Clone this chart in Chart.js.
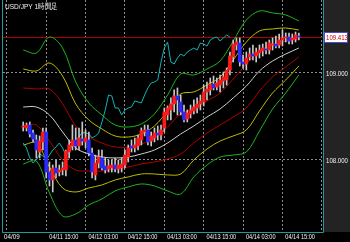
<!DOCTYPE html>
<html><head><meta charset="utf-8">
<script src="https://cdn.jsdelivr.net/npm/chart.js@4/dist/chart.umd.min.js"></script>
<style>html,body{margin:0;padding:0;background:#000;overflow:hidden}canvas{display:block}</style>
</head><body>
<canvas id="c" width="350" height="242"></canvas>
<script>
const chartTitle = 'USD/JPY 1時間足';
const tickIndex = [1, 13, 25, 37, 49, 61, 73, 85];
const tickLabels = ['04/09', '04/11 15:00', '04/12 03:00', '04/12 15:00', '04/13 03:00', '04/13 15:00', '04/14 03:00', '04/14 15:00'];
const priceTicks = [108, 109];
const lastPrice = 109.413;

const opens = [108.379,108.368,108.402,108.310,108.230,108.092,108.207,108.322,107.862,107.770,
107.908,107.862,107.885,107.885,108.092,108.161,108.230,108.161,108.241,108.207,
108.230,108.080,107.828,107.965,108.023,107.931,107.896,107.908,107.942,107.896,
107.908,107.942,108.034,108.161,108.138,108.161,108.230,108.322,108.345,108.218,
108.253,108.310,108.287,108.368,108.517,108.575,108.644,108.736,108.667,108.552,
108.471,108.529,108.563,108.598,108.644,108.667,108.782,108.805,108.873,108.839,
108.862,108.908,108.919,109.034,109.184,109.322,109.345,109.126,109.103,109.184,
109.218,109.195,109.230,109.253,109.276,109.264,109.322,109.333,109.322,109.379,
109.402,109.414,109.379,109.391,109.425];
const highs = [108.437,108.425,108.437,108.345,108.287,108.276,108.368,108.368,107.977,107.942,
108.000,107.942,107.977,108.115,108.230,108.402,108.368,108.368,108.437,108.345,
108.322,108.138,108.057,108.115,108.115,108.023,108.000,108.000,108.023,108.000,
108.023,108.115,108.172,108.230,108.253,108.287,108.368,108.402,108.402,108.322,
108.368,108.391,108.402,108.598,108.621,108.713,108.805,108.828,108.747,108.632,
108.575,108.632,108.690,108.713,108.747,108.862,108.896,108.942,108.965,108.942,
108.977,109.011,109.057,109.241,109.379,109.402,109.402,109.207,109.241,109.287,
109.322,109.287,109.322,109.333,109.356,109.379,109.402,109.425,109.448,109.494,
109.460,109.460,109.448,109.471,109.460];
const lows = [108.333,108.333,108.264,108.207,108.023,108.023,108.115,107.793,107.701,107.632,
107.793,107.816,107.828,107.816,108.023,108.115,108.115,108.115,108.172,108.138,
108.046,107.793,107.770,107.908,107.885,107.850,107.862,107.862,107.862,107.850,
107.862,107.908,107.977,108.092,108.092,108.115,108.172,108.276,108.172,108.161,
108.207,108.230,108.230,108.322,108.460,108.460,108.552,108.517,108.517,108.437,
108.437,108.483,108.529,108.540,108.575,108.621,108.690,108.747,108.805,108.805,
108.782,108.828,108.862,108.977,109.126,109.264,109.080,109.057,109.034,109.149,
109.149,109.126,109.172,109.195,109.218,109.218,109.264,109.287,109.287,109.310,
109.356,109.333,109.333,109.356,109.379];
const closes = [108.391,108.402,108.299,108.241,108.115,108.218,108.322,107.862,107.770,107.908,
107.850,107.885,107.908,108.103,108.172,108.230,108.161,108.253,108.218,108.253,
108.080,107.862,107.965,108.034,107.908,107.885,107.931,107.942,107.896,107.942,
107.954,108.057,108.138,108.138,108.172,108.253,108.333,108.345,108.207,108.276,
108.310,108.287,108.345,108.552,108.598,108.644,108.736,108.690,108.552,108.460,
108.540,108.575,108.609,108.644,108.678,108.782,108.816,108.873,108.828,108.885,
108.919,108.954,109.034,109.195,109.333,109.356,109.126,109.103,109.172,109.218,
109.195,109.241,109.264,109.287,109.264,109.345,109.333,109.310,109.379,109.402,
109.414,109.368,109.402,109.437,109.413];

const bandIdx = [0,4,8,12,16,20,24,28,32,36,40,44,48,52,56,60,64,68,72,76,80,84];
const upper3 = [109.264,109.230,109.414,109.287,108.896,108.655,108.517,108.402,108.379,108.414,108.529,108.747,108.988,108.977,109.046,109.138,109.368,109.609,109.713,109.690,109.667,109.598];
const upper2 = [109.046,109.023,109.115,108.965,108.644,108.460,108.356,108.276,108.264,108.299,108.391,108.563,108.759,108.782,108.862,108.954,109.149,109.356,109.483,109.506,109.517,109.494];
const upper1 = [108.828,108.816,108.816,108.644,108.391,108.264,108.195,108.149,108.149,108.184,108.253,108.379,108.529,108.586,108.678,108.770,108.931,109.103,109.253,109.322,109.368,109.391];
const middle = [108.609,108.609,108.517,108.322,108.138,108.069,108.034,108.023,108.034,108.069,108.115,108.195,108.299,108.391,108.494,108.586,108.713,108.850,109.023,109.138,109.218,109.287];
const lower1 = [108.391,108.402,108.218,108.000,107.885,107.873,107.873,107.896,107.919,107.954,107.977,108.011,108.069,108.195,108.310,108.402,108.494,108.598,108.793,108.954,109.069,109.184];
const lower2 = [108.172,108.195,107.919,107.678,107.632,107.678,107.713,107.770,107.805,107.839,107.839,107.828,107.839,108.000,108.126,108.218,108.276,108.345,108.563,108.770,108.919,109.080];
const lower3 = [107.954,107.988,107.621,107.356,107.379,107.483,107.552,107.644,107.690,107.724,107.701,107.644,107.609,107.805,107.942,108.034,108.057,108.092,108.333,108.586,108.770,108.977];

const lagging = [108.195,108.138,108.023,107.965,108.000,108.069,108.046,108.000,108.057,108.115,
108.149,108.195,108.138,108.057,108.103,108.172,108.230,108.264,108.322,108.310,
108.299,108.253,108.276,108.310,108.437,108.575,108.747,108.736,108.598,108.598,
108.517,108.575,108.598,108.609,108.678,108.667,108.655,108.747,108.828,108.885,
108.896,108.919,109.126,109.287,109.356,109.126,109.103,109.172,109.218,109.195,
109.241,109.264,109.287,109.264,109.345,109.333,109.310,109.379,109.402,109.414,
109.368,109.402,109.437,109.413];

const FONT = "'Liberation Sans',Arial,sans-serif";
const UP = '#ff1a1a', DOWN = '#2a2aff';

const bandPts = vals => vals.map((v, i) => ({x: bandIdx[i], y: v}));
const bodies = opens.map((o, i) => ({x: i, y: [o, closes[i]]}));
const wicks = lows.map((l, i) => ({x: i, y: [l, highs[i]]}));
const lagPts = lagging.map((v, i) => ({x: i, y: v}));
const candleColor = ctx => closes[ctx.dataIndex] >= opens[ctx.dataIndex] ? UP : DOWN;

const bandLine = (data, color, order) => ({type: 'line', data: bandPts(data), borderColor: color, borderWidth: 1, pointRadius: 0, tension: 0.35, order});

function narrowText(ctx, text, x, y, sx, align) {
  ctx.save();
  ctx.translate(x, y);
  ctx.scale(sx, 1);
  ctx.textAlign = align;
  ctx.fillText(text, 0, 0);
  ctx.restore();
}

const deco = {
  id: 'deco',
  beforeDraw(chart) {
    const {ctx, chartArea: a, width, height} = chart;
    ctx.save();
    ctx.fillStyle = '#000';
    ctx.fillRect(0, 0, width, height);
    ctx.fillStyle = '#232323';
    ctx.fillRect(a.right, 0, width - a.right, a.bottom);
    ctx.restore();
  },
  beforeDatasetsDraw(chart) {
    const {ctx, chartArea: a, scales} = chart;
    const y = Math.round(scales.y.getPixelForValue(lastPrice)) + 0.5;
    ctx.save();
    ctx.strokeStyle = '#b00000';
    ctx.lineWidth = 1;
    ctx.beginPath(); ctx.moveTo(a.left, y); ctx.lineTo(a.right, y); ctx.stroke();
    ctx.restore();
  },
  afterDraw(chart) {
    const {ctx, chartArea: a, scales, width} = chart;
    ctx.save();
    ctx.strokeStyle = '#1e9c9c';
    ctx.lineWidth = 1;
    ctx.beginPath();
    ctx.moveTo(a.left - 0.5, 0); ctx.lineTo(a.left - 0.5, a.bottom + 0.5);
    ctx.lineTo(a.right + 0.5, a.bottom + 0.5); ctx.lineTo(a.right + 0.5, 0);
    ctx.stroke();

    ctx.font = '8px ' + FONT;
    ctx.textBaseline = 'middle';
    ctx.fillStyle = '#f2f2f2';
    tickIndex.forEach((v, k) => {
      const px = scales.x.getPixelForValue(v);
      if (k === 0) narrowText(ctx, tickLabels[k], a.left + 1, a.bottom + 5, 0.78, 'left');
      else narrowText(ctx, tickLabels[k], px - 2, a.bottom + 5, 0.7, 'center');
    });
    priceTicks.forEach(v => {
      narrowText(ctx, v.toFixed(3), a.right + 3, scales.y.getPixelForValue(v) + 0.5, 0.76, 'left');
    });

    const y = Math.round(scales.y.getPixelForValue(lastPrice));
    ctx.fillStyle = '#ffffff';
    ctx.fillRect(a.right + 1, y - 5, width - a.right - 3, 10);
    ctx.strokeStyle = '#4a4ad0';
    ctx.strokeRect(a.right + 1.5, y - 4.5, width - a.right - 4, 10);
    ctx.fillStyle = '#c00000';
    narrowText(ctx, lastPrice.toFixed(3), a.right + 3, y + 0.5, 0.76, 'left');

    ctx.fillStyle = '#f2f2f2';
    ctx.textBaseline = 'alphabetic';
    narrowText(ctx, chartTitle, 5, 9, 0.82, 'left');
    ctx.restore();
  }
};

new Chart(document.getElementById('c'), {
  data: {
    datasets: [
      {type: 'bar', data: bodies, backgroundColor: candleColor, barThickness: 3, grouped: false, minBarLength: 1, borderWidth: 0, order: 0},
      {type: 'bar', data: wicks, backgroundColor: '#c8c8c8', barThickness: 1, grouped: false, borderWidth: 0, order: 1},
      {type: 'line', data: lagPts, borderColor: '#10b4b4', borderWidth: 1, pointRadius: 0, tension: 0, order: 2},
      bandLine(upper3, '#1eb41e', 3),
      bandLine(upper2, '#bcbc00', 3),
      bandLine(upper1, '#b00000', 3),
      bandLine(middle, '#cfcfcf', 3),
      bandLine(lower1, '#b00000', 3),
      bandLine(lower2, '#bcbc00', 3),
      bandLine(lower3, '#1eb41e', 3)
    ]
  },
  options: {
    responsive: false,
    animation: false,
    devicePixelRatio: 1,
    layout: {padding: {left: 3, right: 0, top: 0, bottom: 0}},
    plugins: {legend: {display: false}, tooltip: {enabled: false}, title: {display: false}},
    scales: {
      x: {
        type: 'linear', min: -0.067, max: 85.267,
        afterBuildTicks: s => { s.ticks = tickIndex.map(v => ({value: v})); },
        afterFit: s => { s.height = 10; s.paddingLeft = 0; s.paddingRight = 0; },
        ticks: {display: false},
        grid: {color: '#8c8c8c', drawTicks: false, lineWidth: 1},
        border: {display: false, dash: [2, 2]}
      },
      y: {
        type: 'linear', position: 'right', min: 107.172, max: 109.839,
        afterBuildTicks: s => { s.ticks = priceTicks.map(v => ({value: v})); },
        afterFit: s => { s.width = 27; },
        ticks: {display: false},
        grid: {color: '#8c8c8c', drawTicks: false, lineWidth: 1},
        border: {display: false, dash: [2, 2]}
      }
    }
  },
  plugins: [deco]
});
</script>
</body></html>
